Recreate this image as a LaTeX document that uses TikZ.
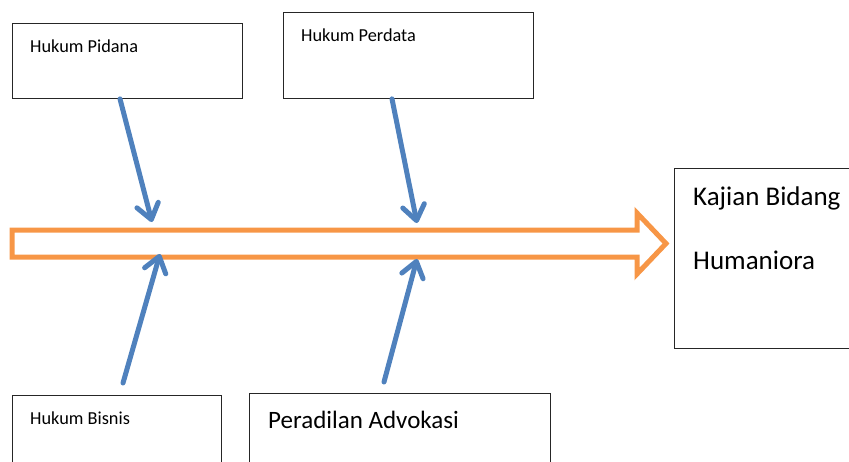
\documentclass[tikz,border=0pt]{standalone}
\usepackage{fontspec}
\setmainfont{Carlito}
\usetikzlibrary{arrows.meta,calc}
\begin{document}
\begin{tikzpicture}[x=1pt,y=-1pt,
  boxstyle/.style={draw=black!85,line width=0.9pt,rectangle,inner sep=0pt,anchor=north west},
  smalltext/.style={anchor=base west,inner sep=0pt,font=\fontsize{18.3}{22}\selectfont},
  bigtext/.style={anchor=base west,inner sep=0pt,font=\fontsize{25}{30}\selectfont},
  hugetext/.style={anchor=base west,inner sep=0pt,font=\fontsize{27}{32}\selectfont},
  spine/.style={draw=spinecol,line width=5pt,miter limit=10},
  bone/.style={draw=bonecol,line width=5pt,line cap=round,
    -{Straight Barb[length=15pt,width=22pt,line cap=round,line join=round]}}]
\definecolor{bonecol}{HTML}{4F81BD}
\definecolor{spinecol}{HTML}{F79646}
\useasboundingbox (0,0) rectangle (849,461);

% cause boxes
\node[boxstyle,minimum width=230pt,minimum height=75pt] (pidana) at (12,23) {};
\node[boxstyle,minimum width=250pt,minimum height=86pt] (perdata) at (283,12) {};
\node[boxstyle,minimum width=209pt,minimum height=80pt] (bisnis) at (12,395) {};
\node[boxstyle,minimum width=301pt,minimum height=80pt] (peradilan) at (249,393) {};
\node[boxstyle,minimum width=190pt,minimum height=180pt] (kajian) at (674,168) {};

\node[smalltext] (tpidana) at (30,52) {Hukum Pidana};
\node[smalltext] (tperdata) at (301,41) {Hukum Perdata};
\node[smalltext] (tbisnis) at (30,424) {Hukum Bisnis};
\node[bigtext] (tperadilan) at (268,428) {Peradilan Advokasi};
\node[hugetext] (tkajian1) at (693,205) {Kajian Bidang};
\node[hugetext] (tkajian2) at (693,269) {Humaniora};

% outlined block arrow along the spine
\draw[spine]
  (12,230) -- (637,230) -- (637,213) -- (666,243.5) -- (637,274) -- (637,257) -- (12,257) -- cycle;

% bone end points on the spine
\coordinate (s1) at (152,222);
\coordinate (s2) at (417,223);
\coordinate (s3) at (160,254);
\coordinate (s4) at (417,259);

\draw[bone] ($(pidana.south west)+(108,0)$) -- (s1);
\draw[bone] ($(perdata.south west)+(109,0)$) -- (s2);
\draw[bone] ($(bisnis.north west)+(111,-12)$) -- (s3);
\draw[bone] ($(peradilan.north west)+(135,-11)$) -- (s4);
\end{tikzpicture}
\end{document}
